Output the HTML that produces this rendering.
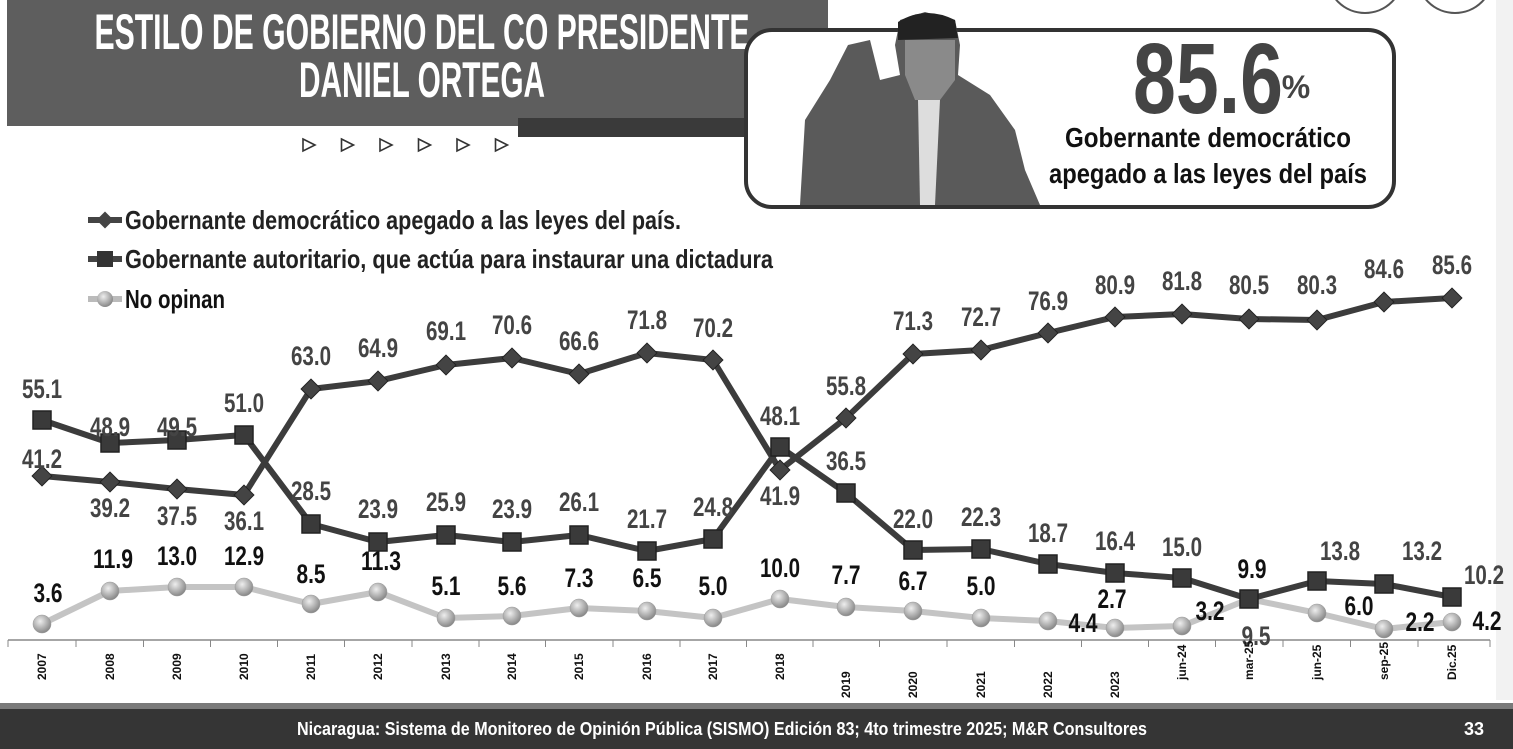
<!DOCTYPE html>
<html><head><meta charset="utf-8"><style>
html,body{margin:0;padding:0;background:#fff;width:1513px;height:749px;overflow:hidden}
svg{display:block}
text{font-family:"Liberation Sans Narrow","Liberation Sans",sans-serif;font-weight:bold}
</style></head><body>
<svg id="s" width="1513" height="749" viewBox="0 0 1513 749" xmlns="http://www.w3.org/2000/svg">
<defs>
<radialGradient id="ball" cx="40%" cy="35%" r="65%"><stop offset="0" stop-color="#eee"/><stop offset="1" stop-color="#888"/></radialGradient>
</defs>
<rect x="0" y="0" width="1513" height="749" fill="#fff"/>
<rect x="1496" y="0" width="17" height="700" fill="#f2f2f2"/>
<!-- title -->
<rect x="7" y="0" width="821" height="126" fill="#5e5e5e"/>
<rect x="518" y="118" width="312" height="19" fill="#3a3a3a"/>
<text x="422" y="49" font-size="50" fill="#fff" text-anchor="middle" textLength="655" lengthAdjust="spacingAndGlyphs">ESTILO DE GOBIERNO DEL CO PRESIDENTE</text>
<text x="422" y="97" font-size="50" fill="#fff" text-anchor="middle" textLength="246" lengthAdjust="spacingAndGlyphs">DANIEL ORTEGA</text>
<g fill="none" stroke="#333" stroke-width="1.6" id="tri"></g>
<!-- top circles -->
<circle cx="1455" cy="-25" r="38" fill="none" stroke="#555" stroke-width="2"/>
<circle cx="1365" cy="-25" r="38" fill="none" stroke="#555" stroke-width="2"/>
<!-- callout box -->
<rect x="746" y="30" width="648" height="177" rx="26" fill="#fff" stroke="#333" stroke-width="4"/>
<!-- photo approximation -->
<path d="M800 205 L805 120 L830 80 L848 45 L870 40 L880 80 L900 75 L895 45 L900 20 L925 12 L955 20 L960 45 L958 75 L990 95 L1015 130 L1025 170 L1040 205 Z" fill="#5a5a5a"/>
<path d="M905 40 L955 40 L955 80 L940 100 L915 100 L905 75Z" fill="#8a8a8a"/>
<path d="M898 22 Q925 5 955 20 L958 38 L898 40Z" fill="#222"/>
<path d="M918 100 L940 100 L935 205 L920 205Z" fill="#ddd"/>
<text x="1208" y="113" font-size="100" fill="#444" text-anchor="middle" textLength="150" lengthAdjust="spacingAndGlyphs">85.6</text>
<text x="1296" y="98" font-size="32" fill="#444" text-anchor="middle">%</text>
<text x="1208" y="147" font-size="28" fill="#111" text-anchor="middle" textLength="286" lengthAdjust="spacingAndGlyphs">Gobernante democrático</text>
<text x="1208" y="183" font-size="28" fill="#111" text-anchor="middle" textLength="318" lengthAdjust="spacingAndGlyphs">apegado a las leyes del país</text>
<!-- legend -->
<line x1="88" y1="220" x2="122" y2="220" stroke="#444" stroke-width="6"/>
<rect x="99" y="214" width="12" height="12" fill="#444" transform="rotate(45 105 220)"/>
<text x="125" y="229" font-size="26" fill="#222" textLength="556" lengthAdjust="spacingAndGlyphs">Gobernante  democrático apegado a las leyes del país.</text>
<line x1="88" y1="259" x2="122" y2="259" stroke="#444" stroke-width="6"/>
<rect x="97" y="251" width="16" height="16" fill="#333"/>
<text x="125" y="268" font-size="26" fill="#222" textLength="648" lengthAdjust="spacingAndGlyphs">Gobernante autoritario, que actúa para instaurar una dictadura</text>
<line x1="88" y1="299" x2="122" y2="299" stroke="#bbb" stroke-width="6"/>
<circle cx="105" cy="299" r="8" fill="url(#ball)"/>
<text x="125" y="308" font-size="26" fill="#111" textLength="100" lengthAdjust="spacingAndGlyphs">No opinan</text>
<!-- axis -->
<line x1="8" y1="640" x2="1490" y2="640" stroke="#888" stroke-width="1.5"/>
<g id="plot"></g>
<!-- footer -->
<rect x="0" y="703" width="1513" height="6" fill="#7a7a7a"/>
<rect x="0" y="709" width="1513" height="40" fill="#353535"/>
<text x="722" y="735" font-size="18" fill="#fff" text-anchor="middle" textLength="850" lengthAdjust="spacingAndGlyphs">Nicaragua: Sistema de Monitoreo de Opinión Pública (SISMO) Edición 83; 4to trimestre 2025; M&amp;R Consultores</text>
<text x="1474" y="735" font-size="18" fill="#fff" text-anchor="middle">33</text>
</svg>
<script>
var t='';for(var k=0;k<6;k++){var a=303+38.5*k;t+='<path d="M'+a+' 139 L'+(a+12)+' 145 L'+a+' 151Z"/>';}
document.getElementById('tri').innerHTML=t;
var X=[42,110,177,244,311,378,446,512,579,647,713,780,846,913,981,1048,1115,1182,1249,1317,1384,1452];
var cat=["2007","2008","2009","2010","2011","2012","2013","2014","2015","2016","2017","2018","2019","2020","2021","2022","2023","jun-24","mar-25","jun-25","sep-25","Dic.25"];
var D=[476,482,489,495,389,381,365,358,374,353,360,470,418,354,350,333,317,314,319,320,302,298];
var S=[420,443,440,435,524,542,535,542,535,551,539,447,493,550,549,564,573,578,599,581,584,597];
var C=[624,591,587,587,604,592,618,616,608,611,618,599,607,611,618,621,628,626,599,613,629,622];
var SL=[["55.1",42,398],["48.9",110,436],["49.5",177,436],["51.0",244,412],["28.5",311,500],["23.9",378,518],["25.9",446,511],["23.9",512,518],["26.1",579,511],["21.7",647,528],["24.8",713,516],["48.1",780,425],["36.5",846,470],["22.0",913,528],["22.3",981,526],["18.7",1048,542],["16.4",1115,550],["15.0",1182,556],["13.8",1340,560],["13.2",1422,560],["10.2",1484,584],["9.5",1256,645]];
var DL=[["41.2",42,468],["39.2",110,517],["37.5",177,525],["36.1",244,530],["63.0",311,365],["64.9",378,357],["69.1",446,340],["70.6",512,334],["66.6",579,350],["71.8",647,329],["70.2",713,337],["41.9",780,505],["55.8",846,395],["71.3",913,330],["72.7",981,326],["76.9",1048,310],["80.9",1115,294],["81.8",1182,290],["80.5",1249,294],["80.3",1317,294],["84.6",1384,278],["85.6",1452,274]];
var CL=[["3.6",48,602],["11.9",113,568],["13.0",177,565],["12.9",244,565],["8.5",311,583],["11.3",381,570],["5.1",446,595],["5.6",512,595],["7.3",579,587],["6.5",647,587],["5.0",713,595],["10.0",780,577],["7.7",846,584],["6.7",913,590],["5.0",981,595],["4.4",1083,632],["2.7",1112,608],["3.2",1210,620],["9.9",1252,578],["6.0",1359,615],["2.2",1420,631],["4.2",1487,630]];
var h='';
function pl(Y,col,w){return '<polyline points="'+X.map((x,i)=>x+','+Y[i]).join(' ')+'" fill="none" stroke="'+col+'" stroke-width="'+w+'" stroke-linejoin="round"/>';}
for(var i=0;i<=X.length;i++){var tx=(i==0?8:(i==X.length?1490:(X[i-1]+X[i])/2));h+='<line x1="'+tx+'" y1="640" x2="'+tx+'" y2="647" stroke="#888"/>';}
h+=pl(C,'#c4c4c4',6);
h+=pl(S,'#3c3c3c',6);
h+=pl(D,'#3c3c3c',6);
X.forEach((x,i)=>{h+='<circle cx="'+x+'" cy="'+C[i]+'" r="9" fill="url(#ball)" stroke="#999" stroke-width="0.5"/>';});
X.forEach((x,i)=>{h+='<rect x="'+(x-9)+'" y="'+(S[i]-9)+'" width="18" height="18" fill="#3a3a3a" stroke="#222" stroke-width="1.5"/>';});
X.forEach((x,i)=>{h+='<rect x="'+(x-7)+'" y="'+(D[i]-7)+'" width="14" height="14" fill="#444" stroke="#222" transform="rotate(45 '+x+' '+D[i]+')"/>';});
function lab(L,col){L.forEach(l=>{var w=l[0].length==4?40:29;h+='<text x="'+l[1]+'" y="'+l[2]+'" font-size="27" fill="'+col+'" text-anchor="middle" textLength="'+w+'" lengthAdjust="spacingAndGlyphs">'+l[0]+'</text>';});}
lab(SL,'#444');lab(DL,'#444');lab(CL,'#111');
X.forEach((x,i)=>{var low=(i>=12&&i<=16);var ty=low?698:680;h+='<text x="'+(x+4)+'" y="'+ty+'" font-size="12" fill="#111" transform="rotate(-90 '+(x+4)+' '+ty+')" font-family="Liberation Sans">'+cat[i]+'</text>';});
document.getElementById('plot').innerHTML=h;
</script>
</body></html>
